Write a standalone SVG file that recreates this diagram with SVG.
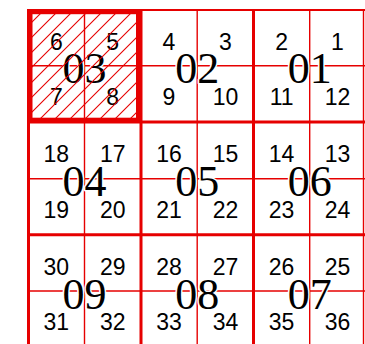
<svg xmlns="http://www.w3.org/2000/svg" width="365" height="344" viewBox="0 0 365 344">
<style>
.thick{stroke:#e60000;stroke-width:3;fill:none}
.thin{stroke:#e60000;stroke-width:1.4;fill:none}
.num{font-family:"Liberation Sans",Arial,sans-serif;font-size:23px;fill:#000;text-anchor:middle}
.big{font-family:"Liberation Serif","Times New Roman",serif;font-size:44px;fill:#000;text-anchor:middle;stroke:#fff;stroke-width:3;paint-order:stroke;stroke-linejoin:round}
</style>
<defs>
<pattern id="hatch" patternUnits="userSpaceOnUse" x="9" y="0" width="15" height="15">
<path d="M0,15 L15,0 M-1,1 L1,-1 M14,16 L16,14" stroke="#e60000" stroke-width="1.1"/>
</pattern>
</defs>
<rect width="365" height="344" fill="#fff"/>
<g id="grid">
<line class="thin" x1="84.5" y1="9" x2="84.5" y2="344"/>
<line class="thin" x1="197.2" y1="9" x2="197.2" y2="344"/>
<line class="thin" x1="309.7" y1="9" x2="309.7" y2="344"/>
<line class="thin" x1="363.5" y1="9" x2="363.5" y2="344"/>
<line class="thin" x1="27" y1="65.8" x2="365" y2="65.8"/>
<line class="thin" x1="27" y1="178.7" x2="365" y2="178.7"/>
<line class="thin" x1="27" y1="291" x2="365" y2="291"/>
<line class="thick" x1="28.5" y1="9" x2="28.5" y2="344"/>
<line class="thick" x1="141" y1="9" x2="141" y2="344"/>
<line class="thick" x1="253.5" y1="9" x2="253.5" y2="344"/>
<line class="thick" x1="27" y1="10" x2="365" y2="10" style="stroke-width:2"/>
<line class="thick" x1="27" y1="122" x2="365" y2="122"/>
<line class="thick" x1="27" y1="234.7" x2="365" y2="234.7"/>
</g>
<g id="block03">
<text class="big" x="84.5" y="83">03</text>
<text class="num" x="56.3" y="50">6</text>
<text class="num" x="112.7" y="50">5</text>
<text class="num" x="56.3" y="105">7</text>
<text class="num" x="112.7" y="105">8</text>
<rect x="30" y="11.7" width="108.5" height="108.5" fill="url(#hatch)"/>
<rect x="30" y="11.7" width="108.5" height="108.5" fill="none" stroke="#e60000" stroke-width="5"/>
</g>
<g id="block02">
<text class="big" x="197.2" y="83">02</text>
<text class="num" x="169" y="50">4</text>
<text class="num" x="225.5" y="50">3</text>
<text class="num" x="169" y="105">9</text>
<text class="num" x="225.5" y="105">10</text>
</g>
<g id="block01">
<text class="big" x="309.7" y="83">01</text>
<text class="num" x="281.6" y="50">2</text>
<text class="num" x="337.5" y="50">1</text>
<text class="num" x="281.6" y="105">11</text>
<text class="num" x="337.5" y="105">12</text>
</g>
<g id="block04">
<text class="big" x="84.5" y="196">04</text>
<text class="num" x="56.3" y="162">18</text>
<text class="num" x="112.7" y="162">17</text>
<text class="num" x="56.3" y="218">19</text>
<text class="num" x="112.7" y="218">20</text>
</g>
<g id="block05">
<text class="big" x="197.2" y="196">05</text>
<text class="num" x="169" y="162">16</text>
<text class="num" x="225.5" y="162">15</text>
<text class="num" x="169" y="218">21</text>
<text class="num" x="225.5" y="218">22</text>
</g>
<g id="block06">
<text class="big" x="309.7" y="196">06</text>
<text class="num" x="281.6" y="162">14</text>
<text class="num" x="337.5" y="162">13</text>
<text class="num" x="281.6" y="218">23</text>
<text class="num" x="337.5" y="218">24</text>
</g>
<g id="block09">
<text class="big" x="84.5" y="308.5">09</text>
<text class="num" x="56.3" y="274.5">30</text>
<text class="num" x="112.7" y="274.5">29</text>
<text class="num" x="56.3" y="330">31</text>
<text class="num" x="112.7" y="330">32</text>
</g>
<g id="block08">
<text class="big" x="197.2" y="308.5">08</text>
<text class="num" x="169" y="274.5">28</text>
<text class="num" x="225.5" y="274.5">27</text>
<text class="num" x="169" y="330">33</text>
<text class="num" x="225.5" y="330">34</text>
</g>
<g id="block07">
<text class="big" x="309.7" y="308.5">07</text>
<text class="num" x="281.6" y="274.5">26</text>
<text class="num" x="337.5" y="274.5">25</text>
<text class="num" x="281.6" y="330">35</text>
<text class="num" x="337.5" y="330">36</text>
</g>
</svg>
